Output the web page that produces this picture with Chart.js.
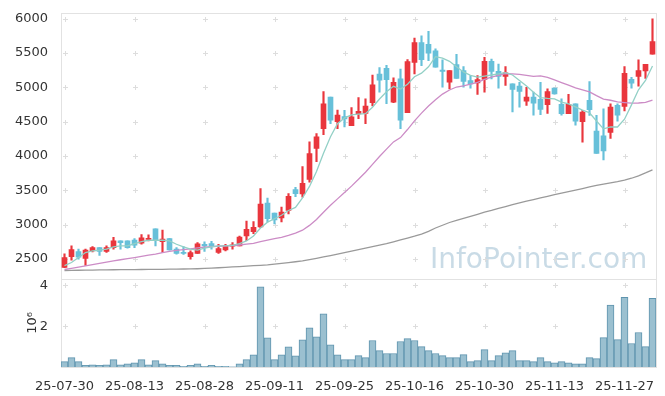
<!DOCTYPE html>
<html><head><meta charset="utf-8">
<script src="https://cdn.jsdelivr.net/npm/chart.js@4.4.1/dist/chart.umd.min.js"></script>
<style>html,body{margin:0;padding:0;background:#fff;}#wrap{width:665px;height:396px;}</style>
</head><body><div id="wrap"><canvas id="c" width="665" height="396"></canvas></div>
<script>
const dates = ['25-07-30','25-07-31','25-08-01','25-08-04','25-08-05','25-08-06','25-08-07','25-08-08','25-08-11','25-08-12','25-08-13','25-08-14','25-08-18','25-08-19','25-08-20','25-08-21','25-08-22','25-08-25','25-08-26','25-08-27','25-08-28','25-08-29','25-09-01','25-09-02','25-09-03','25-09-04','25-09-05','25-09-08','25-09-09','25-09-10','25-09-11','25-09-12','25-09-15','25-09-16','25-09-17','25-09-18','25-09-19','25-09-22','25-09-23','25-09-24','25-09-25','25-09-26','25-09-29','25-09-30','25-10-01','25-10-02','25-10-10','25-10-13','25-10-14','25-10-15','25-10-16','25-10-17','25-10-20','25-10-21','25-10-22','25-10-23','25-10-24','25-10-27','25-10-28','25-10-29','25-10-30','25-10-31','25-11-03','25-11-04','25-11-05','25-11-06','25-11-07','25-11-10','25-11-11','25-11-12','25-11-13','25-11-14','25-11-17','25-11-18','25-11-19','25-11-20','25-11-21','25-11-24','25-11-25','25-11-26','25-11-27','25-11-28','25-12-01','25-12-02','25-12-03'];
const openP = [2375,2530,2605,2505,2616,2664,2607,2664,2761,2761,
  2775,2730,2785,2939,2751,2795,2641,2592,2532,2578,
  2713,2722,2592,2631,2684,2689,2833,2896,2964,3312,
  3166,3098,3205,3510,3445,3658,4110,4399,4858,4500,
  4575,4443,4614,4620,4775,5195,5277,4785,5123,4631,
  5364,5653,5626,5533,5253,5075,5333,5244,5099,5065,
  5114,5378,5232,5161,5050,5017,4800,4858,4824,4746,
  4988,4752,4616,4761,4500,4810,4362,4294,4342,4737,
  4723,5118,5161,5238,5484];
const highP = [2574,2689,2641,2641,2679,2664,2689,2814,2761,2761,
  2795,2853,2852,2939,2920,2800,2664,2680,2616,2737,
  2747,2755,2710,2713,2737,2833,3050,3043,3523,3387,
  3166,3253,3451,3542,3845,4207,4327,4940,4858,4670,
  4665,4705,4850,4833,5180,5290,5320,5140,5267,5405,
  5720,5750,5817,5560,5400,5244,5480,5302,5171,5171,
  5436,5412,5339,5302,5050,5075,5002,4930,5075,4978,
  4990,4833,4897,4761,4665,5084,4593,4688,4761,4760,
  5302,5147,5403,5335,6000];
const lowP = [2370,2480,2497,2405,2602,2550,2592,2641,2641,2655,
  2664,2713,2761,2689,2592,2627,2568,2565,2497,2578,
  2607,2641,2578,2616,2641,2689,2766,2867,2955,3040,
  3011,3040,3156,3407,3400,3619,3918,4312,4472,4399,
  4424,4443,4544,4472,4730,4930,4761,4775,4399,4631,
  5195,5316,5390,5296,5002,4978,5132,5002,4988,4897,
  4930,5123,4988,5027,4641,4710,4737,4593,4602,4620,
  4900,4593,4616,4448,4200,4590,4038,3942,4255,4506,
  4655,4988,5017,5132,5484];
const closeP = [2519,2636,2525,2627,2664,2607,2664,2761,2737,2664,
  2699,2805,2800,2766,2790,2630,2578,2580,2592,2718,
  2689,2684,2650,2689,2703,2819,2930,2958,3300,3086,
  3069,3180,3412,3450,3602,4035,4279,4758,4521,4597,
  4540,4569,4651,4728,5036,5105,5111,5075,4521,5374,
  5653,5403,5498,5296,5234,5244,5132,5086,5050,5113,
  5378,5234,5159,5210,4970,4940,4858,4771,4677,4940,
  4906,4616,4752,4506,4641,4674,4038,4072,4713,4593,
  5205,5062,5244,5335,5667];
const ma5 = [2400,2447,2519,2592,2616,2627,2641,2674,2689,2689,
  2722,2751,2771,2771,2771,2761,2713,2674,2641,2627,
  2655,2674,2689,2689,2698,2722,2761,2833,2950,3035,
  3085,3135,3205,3250,3387,3556,3773,4038,4280,4470,
  4555,4598,4610,4616,4710,4830,4935,5015,4975,5045,
  5155,5207,5300,5448,5425,5380,5300,5225,5175,5150,
  5165,5180,5195,5215,5180,5100,5020,4930,4850,4840,
  4833,4785,4760,4715,4668,4630,4510,4395,4425,4422,
  4535,4745,4965,5100,5310];
const ma20 = [2345,2362,2380,2398,2416,2434,2452,2470,2487,2503,
  2519,2536,2553,2570,2590,2608,2625,2636,2645,2660,
  2672,2678,2684,2688,2692,2702,2714,2726,2752,2774,
  2794,2813,2842,2876,2918,2988,3074,3180,3280,3374,
  3466,3560,3660,3762,3878,3992,4100,4205,4268,4385,
  4512,4625,4728,4820,4902,4962,5005,5022,5047,5073,
  5115,5148,5175,5200,5196,5188,5175,5160,5166,5145,
  5108,5070,5032,4992,4962,4934,4880,4830,4812,4787,
  4778,4770,4772,4780,4815];
const ma120 = [2330,2332,2334,2335,2337,2338,2340,2341,2342,2343,
  2344,2345,2346,2347,2348,2349,2350,2352,2354,2356,
  2360,2364,2370,2376,2382,2388,2394,2400,2406,2412,
  2422,2434,2446,2458,2470,2490,2508,2528,2548,2570,
  2592,2612,2634,2656,2678,2700,2722,2748,2775,2802,
  2830,2862,2900,2950,2990,3030,3060,3090,3120,3150,
  3180,3205,3235,3262,3290,3315,3340,3365,3390,3412,
  3435,3458,3480,3502,3525,3548,3570,3590,3608,3625,
  3648,3675,3710,3752,3797];
const volume = [260000,460000,260000,80000,110000,80000,110000,360000,110000,160000,
  210000,360000,110000,310000,160000,80000,80000,30000,80000,160000,
  30000,80000,30000,30000,5000,160000,360000,600000,3930000,1430000,
  360000,600000,990000,550000,1330000,1920000,1480000,2610000,1090000,600000,
  360000,360000,560000,460000,1300000,800000,660000,660000,1250000,1390000,
  1300000,1000000,800000,660000,560000,460000,460000,610000,260000,310000,
  850000,310000,560000,700000,800000,310000,310000,260000,460000,260000,
  210000,260000,210000,160000,160000,460000,410000,1440000,3030000,1340000,
  3410000,1150000,1690000,1000000,3360000];
const priceTicks = [2500,3000,3500,4000,4500,5000,5500,6000];
const volTicks = [2000000,4000000];
const volUnitLabel = '10\u2076';
const watermark = 'InfoPointer.com';
const xTickEvery = 10;

const RED = '#e9363d', BLUE = '#67c0d9';
const FONT = {family: '"DejaVu Sans", sans-serif', size: 13};
const TXT = '#333333';

const decor = {
  id: 'decor',
  beforeDatasetsDraw(chart) {
    const {ctx, scales: {x, y, yv}} = chart;
    ctx.save();
    ctx.font = '28px "DejaVu Sans"';
    ctx.fillStyle = '#c9dbe6';
    ctx.textBaseline = 'alphabetic';
    ctx.textAlign = 'left';
    ctx.fillText(watermark, 430, 268);
    ctx.strokeStyle = '#dddddd';
    ctx.lineWidth = 1;
    const xs = [];
    for (let i = 0; i < dates.length; i += xTickEvery) xs.push(Math.round(x.getPixelForValue(i)) + 0.5);
    const ys = priceTicks.map(v => Math.round(y.getPixelForValue(v)) + 0.5)
      .concat(volTicks.map(v => Math.round(yv.getPixelForValue(v)) + 0.5));
    ctx.beginPath();
    for (const px of xs) for (const py of ys) {
      ctx.moveTo(px - 2.5, py); ctx.lineTo(px + 2.5, py);
      ctx.moveTo(px, py - 2.5); ctx.lineTo(px, py + 2.5);
    }
    ctx.stroke();
    ctx.strokeStyle = '#e2e2e2';
    ctx.strokeRect(Math.round(x.left) + 0.5, Math.round(y.top) + 0.5, Math.round(x.right - x.left), Math.round(y.bottom - y.top));
    ctx.strokeRect(Math.round(x.left) + 0.5, Math.round(yv.top) + 0.5, Math.round(x.right - x.left), Math.round(yv.bottom - yv.top));
    ctx.translate(33, (yv.top + yv.bottom) / 2);
    ctx.rotate(-Math.PI / 2);
    ctx.font = '13px "DejaVu Sans"';
    ctx.fillStyle = TXT;
    ctx.textAlign = 'center';
    ctx.textBaseline = 'middle';
    ctx.fillText(volUnitLabel, 0, 0);
    ctx.restore();
  }
};

const candleColor = c => closeP[c.dataIndex] >= openP[c.dataIndex] ? RED : BLUE;

new Chart(document.getElementById('c'), {
  type: 'bar',
  data: {
    labels: dates,
    datasets: [
      {type: 'line', data: ma5, yAxisID: 'y', borderColor: '#93d0c6', borderWidth: 1.3, pointRadius: 0, order: 0},
      {type: 'line', data: ma20, yAxisID: 'y', borderColor: '#cc8cc6', borderWidth: 1.3, pointRadius: 0, order: 0},
      {type: 'line', data: ma120, yAxisID: 'y', borderColor: '#9a9a9a', borderWidth: 1.3, pointRadius: 0, order: 0},
      {data: lowP.map((l, i) => [l, highP[i]]), yAxisID: 'y', backgroundColor: candleColor, barThickness: 1.5, grouped: false, order: 2},
      {data: openP.map((o, i) => [o, closeP[i]]), yAxisID: 'y', backgroundColor: candleColor, barThickness: 5, minBarLength: 1, grouped: false, order: 1},
      {data: volume, yAxisID: 'yv', backgroundColor: '#9bc0d0', borderColor: '#5e94ae', borderWidth: 1, barPercentage: 1, categoryPercentage: 1, grouped: false, order: 3}
    ]
  },
  options: {
    responsive: false,
    animation: false,
    devicePixelRatio: 1,
    layout: {padding: {top: 10, right: 9, left: 0, bottom: 0}},
    plugins: {legend: {display: false}, tooltip: {enabled: false}},
    scales: {
      x: {
        type: 'category', offset: true,
        grid: {display: false}, border: {display: false},
        ticks: {autoSkip: false, maxRotation: 0, minRotation: 0, padding: 4, color: TXT, font: FONT,
          callback: (v, i) => i % xTickEvery === 0 ? dates[i] : ''},
        afterFit: s => { s.height = 29; }
      },
      yv: {
        type: 'linear', position: 'left', stack: 'panels', stackWeight: 89,
        min: 0, max: 4327000,
        grid: {display: false}, border: {display: false},
        afterBuildTicks: s => { s.ticks = volTicks.map(v => ({value: v})); },
        ticks: {autoSkip: false, padding: 5, color: TXT, font: FONT, callback: v => String(v / 1e6)},
        afterFit: s => { s.width = 61; }
      },
      y: {
        type: 'linear', position: 'left', stack: 'panels', stackWeight: 268,
        min: 2210.7, max: 6086.8,
        grid: {display: false}, border: {display: false},
        afterBuildTicks: s => { s.ticks = priceTicks.map(v => ({value: v})); },
        ticks: {autoSkip: false, padding: 5, color: TXT, font: FONT, callback: v => String(v)},
        afterFit: s => { s.width = 61; }
      }
    }
  },
  plugins: [decor]
});
</script></body></html>
